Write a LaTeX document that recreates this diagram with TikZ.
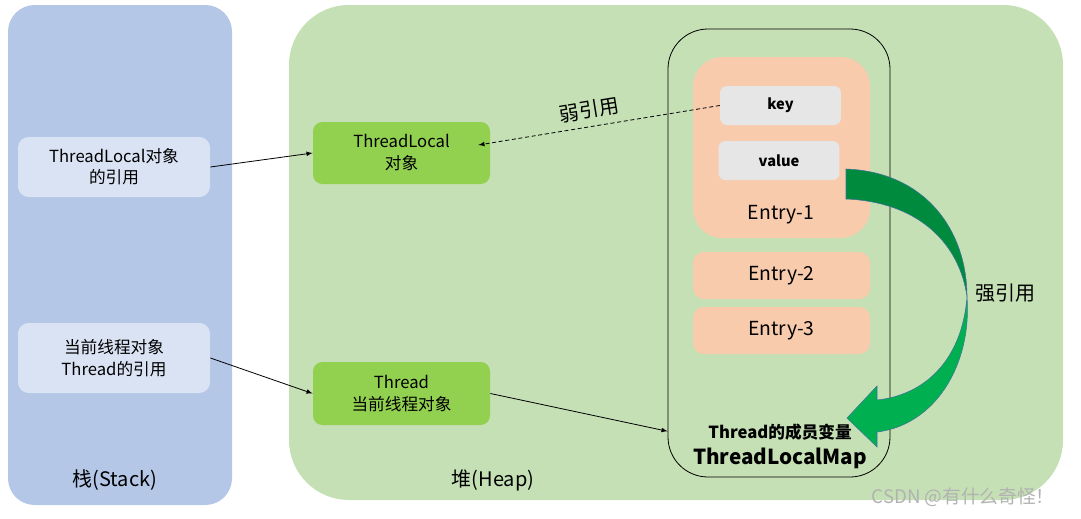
\documentclass[tikz,border=0pt]{standalone}
\usepackage{fontspec}
\setmainfont{Noto Sans CJK SC}
\usepackage{tikz}

\definecolor{stackblue}{HTML}{B4C7E7}
\definecolor{stacknode}{HTML}{DAE3F3}
\definecolor{heapgreen}{HTML}{C5E0B4}
\definecolor{objgreen}{HTML}{92D050}
\definecolor{entrypeach}{HTML}{F8CBAD}
\definecolor{fieldgray}{HTML}{E7E6E6}
\definecolor{darkgreen}{HTML}{008A3E}
\definecolor{brightgreen}{HTML}{00B050}
\definecolor{arrowedge}{HTML}{41719C}

\begin{document}
\begin{tikzpicture}[
    x = 0.75pt, y = -0.75pt,
    >= latex,
    line width = 0.6pt,
    panel/.style = {inner sep = 0},
    stack/.style = {panel, fill = stackblue,
      rounded corners = 20pt,
      minimum width = 168pt, minimum height = 375pt},
    heap/.style = {panel, fill = heapgreen,
      rounded corners = 45pt,
      minimum width = 580.5pt, minimum height = 371.25pt},
    reference/.style = {fill = stacknode, rounded corners = 8pt,
      align = center, minimum width = 144pt,
      font = \fontsize{12.5}{16}\selectfont},
    object/.style = {fill = objgreen, rounded corners = 7pt,
      align = center, minimum width = 132.75pt,
      font = \fontsize{12.5}{16.5}\selectfont},
    entry/.style = {fill = entrypeach, rounded corners = 8pt,
      minimum width = 132.75pt, minimum height = 35.25pt,
      font = \fontsize{14.5}{16}\selectfont},
    field/.style = {fill = fieldgray, rounded corners = 5pt,
      minimum width = 90.5pt, minimum height = 29.25pt,
      font = \bfseries\fontsize{11}{13}\selectfont},
    caption/.style = {font = \fontsize{15}{17}\selectfont},
    ]

    \useasboundingbox (0, 0) rectangle (1081, 518);

    \node at (120, 255) [stack, name = stack] {};
    \node at (676, 252.5) [heap, name = heap] {};

    \node at (115, 480) [caption, name = stack_text] {栈(Stack)};
    \node at (493, 480) [caption, name = heap_text] {堆(Heap)};

    \node at (114, 167)
    [reference, minimum height = 45pt, name = tl_ref]
    {ThreadLocal对象\\的引用};
    \node at (114, 358)
    [reference, minimum height = 52.5pt, name = thread_ref]
    {当前线程对象\\Thread的引用};

    \node at (401.5, 153)
    [object, minimum height = 46.5pt, name = tl] {ThreadLocal\\对象};
    \node at (401.5, 393.5)
    [object, minimum height = 47.25pt, name = thread] {Thread\\当前线程对象};

    \node at (779, 253)
    [draw, rounded corners = 30pt, minimum width = 166.5pt,
      minimum height = 336pt, name = map] {};

    \node at (781.5, 147.5)
    [entry, rounded corners = 22pt, minimum height = 135.75pt,
      name = entry_1] {};
    \node at (781, 215) [entry, fill = none, name = entry_1_text] {Entry-1};
    \node at (780.5, 105.5) [field, name = key] {key};
    \node at (779, 160.5) [field, name = value] {value};

    \node at (781.5, 275.5) [entry, name = entry_2] {Entry-2};
    \node at (781.5, 330.5) [entry, name = entry_3] {Entry-3};

    \node at (780, 432)
    [font = \bfseries\fontsize{12.5}{14}\selectfont, name = member]
    {Thread的成员变量};
    \node at (780, 458)
    [font = \bfseries\fontsize{15.5}{17}\selectfont, name = map_text]
    {ThreadLocalMap};

    % strong reference, twisted ribbon arrow
    \filldraw [draw = arrowedge, fill = darkgreen, line width = 0.4pt]
    (846, 169) .. controls (925, 172) and (967, 230) .. (967, 297)
    .. controls (960, 245) and (920, 202) .. (846, 199) -- cycle;
    \filldraw [draw = arrowedge, fill = brightgreen, line width = 0.4pt]
    (967, 297) .. controls (972, 365) and (935, 425) .. (877, 432)
    -- (877, 447) -- (847, 418) -- (877, 386) -- (877, 400)
    .. controls (925, 395) and (962, 360) .. (967, 297) -- cycle;
    \node at (1005, 293) [caption, name = strong_text] {强引用};

    \draw [->] (tl_ref.east) to (tl.west);
    \draw [->] (thread_ref.east) to (thread.west);
    \draw [->] (thread.east) to (map.238);

    \draw [->, dash pattern = on 3pt off 2pt] (key.west) to
    node [above, sloped, pos = 0.53, yshift = 2pt, caption] {弱引用}
    ([xshift = -9pt, yshift = 6pt]tl.east);

    \node at (963, 497)
    [text = black!30, font = \fontsize{14}{16}\selectfont, name = mark]
    {CSDN @有什么奇怪！};
  \end{tikzpicture}
\end{document}
